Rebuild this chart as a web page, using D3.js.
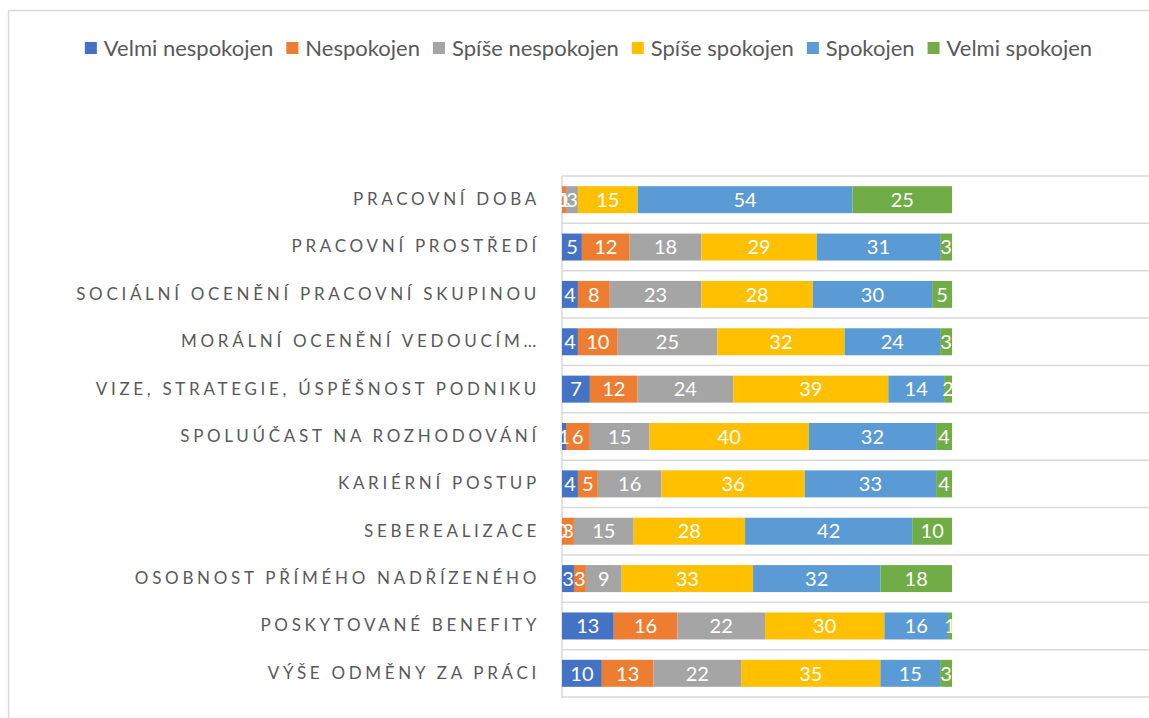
<!DOCTYPE html>
<html>
<head>
<meta charset="utf-8">
<script src="https://cdn.jsdelivr.net/npm/d3@7"></script>
<style>
  html, body { margin: 0; padding: 0; background: #fff; }
  svg { display: block; }
</style>
</head>
<body>
<svg id="chart" width="1149" height="718"></svg>
<script>
// Satisfaction survey: share of respondents (%) per factor and answer
const categories = [
  "PRACOVNÍ DOBA",
  "PRACOVNÍ PROSTŘEDÍ",
  "SOCIÁLNÍ OCENĚNÍ PRACOVNÍ SKUPINOU",
  "MORÁLNÍ OCENĚNÍ VEDOUCÍM…",
  "VIZE, STRATEGIE, ÚSPĚŠNOST PODNIKU",
  "SPOLUÚČAST NA ROZHODOVÁNÍ",
  "KARIÉRNÍ POSTUP",
  "SEBEREALIZACE",
  "OSOBNOST PŘÍMÉHO NADŘÍZENÉHO",
  "POSKYTOVANÉ BENEFITY",
  "VÝŠE ODMĚNY ZA PRÁCI"
];
const seriesNames = ["Velmi nespokojen", "Nespokojen", "Spíše nespokojen", "Spíše spokojen", "Spokojen", "Velmi spokojen"];
const velmiNespokojen = [0, 5, 4, 4, 7, 1, 4, 0, 3, 13, 10];
const nespokojen      = [1, 12, 8, 10, 12, 6, 5, 3, 3, 16, 13];
const spiseNespokojen = [3, 18, 23, 25, 24, 15, 16, 15, 9, 22, 22];
const spiseSpokojen   = [15, 29, 28, 32, 39, 40, 36, 28, 33, 30, 35];
const spokojen        = [54, 31, 30, 24, 14, 32, 33, 42, 32, 16, 15];
const velmiSpokojen   = [25, 3, 5, 3, 2, 4, 4, 10, 18, 1, 3];
const colors = ["#4472C4", "#ED7D31", "#A5A5A5", "#FFC000", "#5B9BD5", "#70AD47"];

const seriesValues = [velmiNespokojen, nespokojen, spiseNespokojen, spiseSpokojen, spokojen, velmiSpokojen];
const rows = categories.map((c, i) => {
  const r = { category: c };
  seriesNames.forEach((s, k) => { r[s] = seriesValues[k][i]; });
  return r;
});

const svg = d3.select("#chart");
const W = 1149, H = 718;
const textColor = "#595959";
const gridColor = "#D9D9D9";
const labelFont = "Lato, 'Noto Sans', sans-serif";

// chart frame
svg.append("rect")
  .attr("x", 8.5).attr("y", 10.5)
  .attr("width", W + 20).attr("height", H + 20)
  .attr("fill", "none").attr("stroke", gridColor).attr("stroke-width", 1.5);

const plot = { left: 562, top: 176, bottom: 697, right: 1160 };

const x = d3.scaleLinear().domain([0, 150]).range([plot.left, plot.left + 150 * 3.98]);
const y = d3.scaleBand().domain(categories).range([plot.top, plot.bottom]).paddingInner(0.43).paddingOuter(0.215);

// horizontal gridlines at category boundaries
const boundaries = d3.range(categories.length + 1).map(i => plot.top + i * (plot.bottom - plot.top) / categories.length);
svg.append("g").selectAll("line").data(boundaries).join("line")
  .attr("x1", plot.left).attr("x2", plot.right)
  .attr("y1", d => d).attr("y2", d => d)
  .attr("stroke", gridColor).attr("stroke-width", 1.5);

// category axis
const yAxis = svg.append("g")
  .attr("transform", `translate(${plot.left},0)`)
  .call(d3.axisLeft(y).tickSize(0).tickPadding(22));
yAxis.select(".domain").attr("stroke", gridColor).attr("stroke-width", 1.5)
  .attr("d", `M0,${plot.top}V${plot.bottom + 1}`);
yAxis.selectAll("text")
  .attr("fill", textColor)
  .style("font-family", labelFont)
  .style("font-size", "17px")
  .style("letter-spacing", "3.7px");

// stacked bars
const stack = d3.stack().keys(seriesNames)(rows);
const layers = svg.append("g").selectAll("g").data(stack).join("g")
  .attr("fill", (d, i) => colors[i]);
layers.selectAll("rect").data(d => d).join("rect")
  .attr("x", d => x(d[0]))
  .attr("y", d => y(d.data.category))
  .attr("width", d => x(d[1]) - x(d[0]))
  .attr("height", y.bandwidth());

// data labels
const labels = svg.append("g").selectAll("g").data(stack).join("g");
labels.selectAll("text").data(d => d.map(v => ({ v, key: d.key }))).join("text")
  .attr("x", d => (x(d.v[0]) + x(d.v[1])) / 2)
  .attr("y", d => y(d.v.data.category) + y.bandwidth() / 2)
  .attr("dy", "0.36em")
  .attr("text-anchor", "middle")
  .attr("fill", "#fff")
  .style("font-family", labelFont)
  .style("font-size", "20px")
  .text(d => d.v.data[d.key]);

// legend
const legend = svg.append("g").attr("transform", "translate(0,48)");
let lx = 0;
const items = legend.selectAll("g").data(seriesNames).join("g");
items.append("rect")
  .attr("width", 12).attr("height", 12).attr("y", -6)
  .attr("fill", (d, i) => colors[i]);
items.append("text")
  .attr("x", 19).attr("dy", "0.35em")
  .attr("fill", textColor)
  .style("font-family", labelFont)
  .style("font-size", "22px")
  .text(d => d);
items.each(function () {
  const g = d3.select(this);
  const w = g.select("text").node().getComputedTextLength();
  g.attr("transform", `translate(${lx},0)`);
  lx += 19 + w + 13;
});
const legendWidth = lx - 13;
legend.attr("transform", `translate(${(80 + 1097) / 2 - legendWidth / 2},48)`);
</script>
</body>
</html>
